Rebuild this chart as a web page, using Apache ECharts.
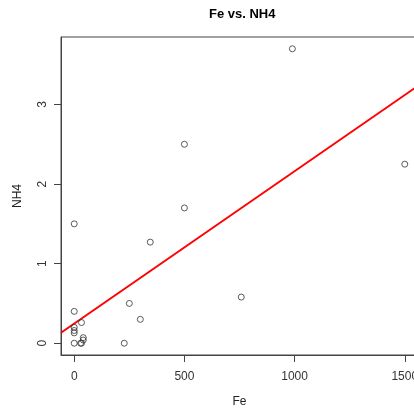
<!DOCTYPE html>
<html>
<head>
<meta charset="utf-8">
<script src="https://cdn.jsdelivr.net/npm/echarts@6/dist/echarts.min.js"></script>
<style>
  html, body { margin: 0; padding: 0; background: #fff; }
  #chart { width: 414px; height: 408px; }
</style>
</head>
<body>
<div id="chart"></div>
<script>
// Fe and NH4 sample measurements
const feValues  = [990, 1500, 500, 500, 345, 0, 758, 250, 300, 227, 0, 33, 0, 0, 0, 0, 29, 33, 41, 41];
const nh4Values = [3.7, 2.25, 2.5, 1.7, 1.27, 1.5, 0.58, 0.5, 0.3, 0, 0.4, 0.26, 0.2, 0.16, 0.13, 0, 0, 0, 0.07, 0.04];

// Tick labels
const xTicks = [0, 500, 1000, 1500];
const yTicks = [0, 1, 2, 3];

// Axis ranges (data range padded by 4% on each side)
const xRange = [-60, 1560];
const yRange = [-0.148, 3.848];

// Ordinary least squares fit of NH4 on Fe
function fitLine(xs, ys) {
  const n = xs.length;
  const mx = xs.reduce((a, b) => a + b, 0) / n;
  const my = ys.reduce((a, b) => a + b, 0) / n;
  let sxy = 0, sxx = 0;
  for (let i = 0; i < n; i++) {
    sxy += (xs[i] - mx) * (ys[i] - my);
    sxx += (xs[i] - mx) * (xs[i] - mx);
  }
  const slope = sxy / sxx;
  return { slope, intercept: my - slope * mx };
}
const fit = fitLine(feValues, nh4Values);
const lineData = xRange.map(x => [x, fit.intercept + fit.slope * x]);

const points = feValues.map((x, i) => [x, nh4Values[i]]);

const FONT = 'Liberation Sans, Arial, sans-serif';

const chart = echarts.init(document.getElementById('chart'), null, { renderer: 'canvas' });
chart.setOption({
  animation: false,
  backgroundColor: '#ffffff',
  title: {
    text: 'Fe vs. NH4',
    left: 204,
    top: 3,
    textStyle: { fontFamily: FONT, fontSize: 13, fontWeight: 'bold', color: '#000' }
  },
  grid: {
    left: 61,
    top: 37,
    width: 357,
    height: 318,
    outerBoundsMode: 'none',
    containLabel: false,
    show: true,
    borderColor: '#444',
    borderWidth: 1,
    backgroundColor: 'transparent'
  },
  xAxis: {
    type: 'value',
    min: xRange[0],
    max: xRange[1],
    name: 'Fe',
    nameLocation: 'middle',
    nameGap: 41,
    nameTextStyle: { fontFamily: FONT, fontSize: 12, color: '#222' },
    axisLine: { show: true, onZero: false, lineStyle: { color: '#444', width: 1 } },
    axisTick: { show: true, inside: false, length: 7, customValues: xTicks, lineStyle: { color: '#444' } },
    axisLabel: {
      customValues: xTicks, margin: 16, fontFamily: FONT, fontSize: 12, color: '#333',
      formatter: v => String(v)
    },
    splitLine: { show: false }
  },
  yAxis: {
    type: 'value',
    min: yRange[0],
    max: yRange[1],
    name: 'NH4',
    nameLocation: 'middle',
    nameGap: 37,
    nameRotate: 90,
    nameTextStyle: { fontFamily: FONT, fontSize: 12, color: '#222' },
    axisLine: { show: true, onZero: false, lineStyle: { color: '#444', width: 1 } },
    axisTick: { show: true, inside: false, length: 7, customValues: yTicks, lineStyle: { color: '#444' } },
    axisLabel: {
      customValues: yTicks, rotate: 90, margin: 12, fontFamily: FONT, fontSize: 12, color: '#333',
      formatter: v => String(v)
    },
    splitLine: { show: false }
  },
  series: [
    {
      type: 'line',
      data: lineData,
      symbol: 'none',
      lineStyle: { color: '#ff0000', width: 2 },
      z: 2,
      silent: true
    },
    {
      type: 'scatter',
      data: points,
      symbol: 'circle',
      symbolSize: 6,
      itemStyle: { color: 'rgba(255,255,255,0)', borderColor: '#333', borderWidth: 1 },
      z: 3
    }
  ]
});
</script>
</body>
</html>
